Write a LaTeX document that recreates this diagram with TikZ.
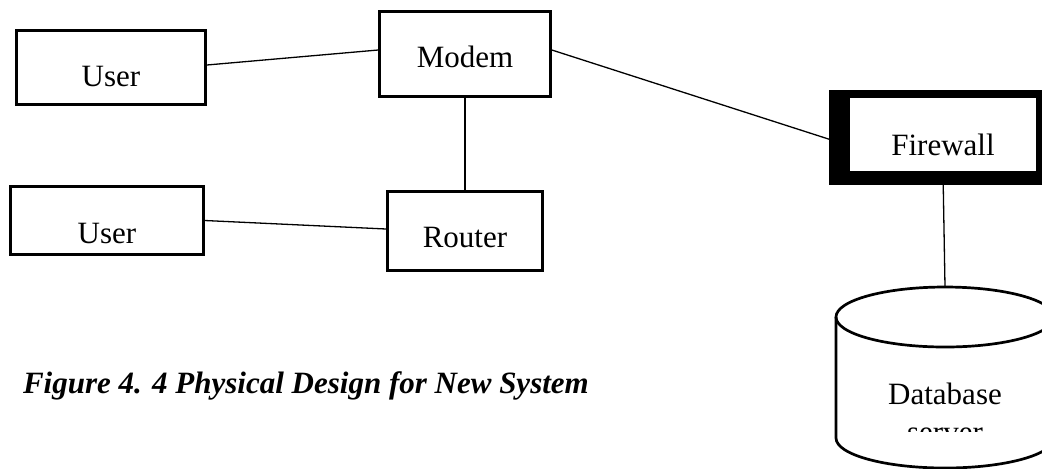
\documentclass[tikz,border=0pt]{standalone}
\usepackage{fontspec}
\setmainfont{Liberation Serif}

\begin{document}
\begin{tikzpicture}[x=0.5pt, y=0.5pt,
    every node/.style={font=\fontsize{15.5}{19}\selectfont},
    box/.style={draw, line width=1.35pt, inner sep=0pt, text depth=0pt, text height=#1},
    wire/.style={line width=0.65pt}]

    % Fix the page to the size of the figure
    \fill[white] (0,0) rectangle (1042,-468);
    \useasboundingbox (0,0) rectangle (1042,-468);
    \clip (0,0) rectangle (1042,-468);

    % The two user boxes on the left
    \node[box=18.5pt, minimum width=94.5pt, minimum height=37pt] (user1) at (111,-67.5) {User};
    \node[box=22.5pt, minimum width=96.5pt, minimum height=34pt] (user2) at (107,-220.5) {User};

    % Modem above, router below
    \node[box=13pt, minimum width=85.5pt, minimum height=42.5pt] (modem) at (465,-54) {Modem};
    \node[box=16pt, minimum width=77.5pt, minimum height=39.5pt] (router) at (465,-231) {Router};

    % Firewall: heavy black frame round a white box
    \fill[black] (829,-90) rectangle (1046,-185);
    \node[box=20.5pt, draw=none, fill=white, minimum width=93pt, minimum height=36.5pt] (firewall) at (943,-134.5) {Firewall};

    % Database server drawn as a cylinder
    \coordinate (dbtop) at (945,-287);
    \draw[line width=1.35pt, fill=white] (836,-317) -- (836,-438)
        arc[start angle=180, end angle=360, x radius=109, y radius=30] -- (1054,-317);
    \draw[line width=1.35pt] (945,-317) ellipse [x radius=109, y radius=30];
    \node[anchor=base] (db) at (945,-404) {Database};
    % the second line is cut off in the figure
    \begin{scope}
        \clip (820,-380) rectangle (1042,-431);
        \node[anchor=base] (dbserver) at (945,-442) {server};
    \end{scope}

    % Connections between the devices
    \draw[wire] ([yshift=1.25pt]user1.east) -- ([yshift=2pt]modem.west);
    \draw[wire] (user2.east) -- ([yshift=1pt]router.west);
    \draw[wire] (modem.south) -- (router.north);
    \draw[wire] ([yshift=2pt]modem.east) -- ([yshift=-5.5pt]firewall.west);
    \draw[wire] (firewall.south) -- (dbtop);

    % Caption
    \node[anchor=base west, font=\fontsize{15.5}{19}\selectfont\bfseries\itshape] (caption) at (16,-393)
        {Figure 4. 4 Physical Design for New System};

\end{tikzpicture}
\end{document}
